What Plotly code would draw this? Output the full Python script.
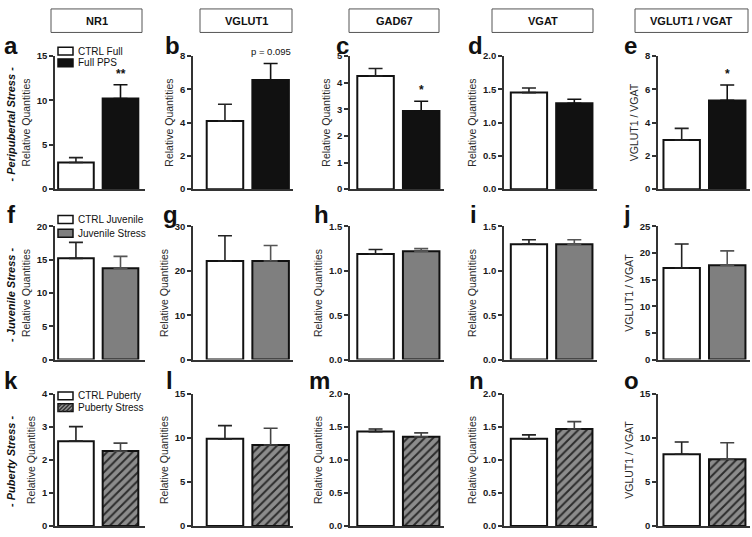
import plotly.graph_objects as go

# ---------------- data ----------------
genes = ["NR1", "VGLUT1", "GAD67", "VGAT", "VGLUT1 / VGAT"]
row_labels = ["- Peripubertal Stress -", "- Juvenile Stress -", "- Puberty Stress -"]
panel_letters = [["a", "b", "c", "d", "e"], ["f", "g", "h", "i", "j"], ["k", "l", "m", "n", "o"]]
legend_ctrl = ["CTRL Full", "CTRL Juvenile", "CTRL Puberty"]
legend_stress = ["Full PPS", "Juvenile Stress", "Puberty Stress"]
y_titles = ["Relative Quantities", "Relative Quantities", "Relative Quantities",
            "Relative Quantities", "VGLUT1 / VGAT"]

# Peripubertal stress (row 1)
peri_ctrl = [3.0, 4.1, 4.25, 1.45, 2.95]
peri_ctrl_err = [0.55, 1.0, 0.28, 0.07, 0.7]
peri_stress = [10.2, 6.55, 2.93, 1.29, 5.33]
peri_stress_err = [1.55, 1.0, 0.37, 0.06, 0.93]
# Juvenile stress (row 2)
juv_ctrl = [15.2, 22.2, 1.19, 1.30, 17.2]
juv_ctrl_err = [2.4, 5.7, 0.05, 0.05, 4.5]
juv_stress = [13.7, 22.2, 1.22, 1.30, 17.7]
juv_stress_err = [1.8, 3.5, 0.03, 0.05, 2.7]
# Puberty stress (row 3)
pub_ctrl = [2.57, 9.9, 1.43, 1.32, 8.15]
pub_ctrl_err = [0.44, 1.5, 0.04, 0.06, 1.4]
pub_stress = [2.27, 9.2, 1.35, 1.47, 7.6]
pub_stress_err = [0.24, 1.9, 0.06, 0.11, 1.85]

# significance marks (row 1 only)
peri_sig = ["**", "p = 0.095", "*", "", "*"]

# axis ticks
y_max = [[15, 8, 5, 2, 8], [20, 30, 1.5, 1.5, 25], [4, 15, 2, 2, 15]]
y_dtick = [[5, 2, 1, 0.5, 2], [5, 10, 0.5, 0.5, 5], [1, 5, 0.5, 0.5, 5]]
y_decimal = [[False, False, False, True, False], [False, False, True, True, False],
             [False, False, True, True, False]]

ctrl_vals = [peri_ctrl, juv_ctrl, pub_ctrl]
ctrl_errs = [peri_ctrl_err, juv_ctrl_err, pub_ctrl_err]
stress_vals = [peri_stress, juv_stress, pub_stress]
stress_errs = [peri_stress_err, juv_stress_err, pub_stress_err]

# ---------------- layout geometry (pixels) ----------------
W, H = 752, 537
col_left = [55, 193, 350, 504, 658]
col_right = [145, 293, 444, 597, 750]
col_range = [[-0.47, 1.55], [-0.70, 1.49], [-0.56, 1.50], [-0.55, 1.50], [-0.52, 1.50]]
row_top = [51, 225, 396]
row_bot = [187, 361, 531]
header_box = [[51, 142], [200, 292], [349, 439], [492, 593], [635, 748]]
letter_x = [[11, 172, 342, 475, 630], [11, 170, 321, 473, 627], [11, 169, 319, 476, 631]]
letter_y = [40, 213, 382]
legend_rows = [[46, 58], [218, 232], [398, 410]]

FONT = "Arial, Liberation Sans, Helvetica, sans-serif"
AX = "#333333"


def px(x):
    return x / W


def py(y):
    return 1 - y / H


fig = go.Figure()
annotations = []
shapes = []

stress_styles = [
    dict(color="#111111"),
    dict(color="#7f7f7f"),
    dict(color="#8c8c8c", pattern=dict(shape="/", fgcolor="#2b2b2b", bgcolor="#8c8c8c",
                                       size=6, solidity=0.32, fillmode="replace")),
]
stress_err_color = ["#111111", "#555555", "#444444"]

k = 0
for r in range(3):
    for c in range(5):
        k += 1
        xa = "x" if k == 1 else f"x{k}"
        ya = "y" if k == 1 else f"y{k}"
        cats = [legend_ctrl[r], legend_stress[r]]
        fig.add_trace(go.Bar(
            x=[cats[0]], y=[ctrl_vals[r][c]], xaxis=xa, yaxis=ya, width=0.8,
            name=cats[0], showlegend=False,
            marker=dict(color="white", line=dict(color="#111111", width=2)),
            error_y=dict(type="data", array=[ctrl_errs[r][c]], arrayminus=[0], symmetric=False,
                         color="#222222", thickness=1.6, width=7),
        ))
        mk = dict(stress_styles[r])
        mk["line"] = dict(color="#111111", width=2)
        fig.add_trace(go.Bar(
            x=[cats[1]], y=[stress_vals[r][c]], xaxis=xa, yaxis=ya, width=0.8,
            name=cats[1], showlegend=False, marker=mk,
            error_y=dict(type="data", array=[stress_errs[r][c]], arrayminus=[0], symmetric=False,
                         color=stress_err_color[r], thickness=1.6, width=7),
        ))
        xkey = "xaxis" if k == 1 else f"xaxis{k}"
        ykey = "yaxis" if k == 1 else f"yaxis{k}"
        fig.layout[xkey] = dict(
            domain=[px(col_left[c]), px(col_right[c])], anchor=ya,
            type="category", categoryorder="array", categoryarray=cats,
            range=col_range[c], showticklabels=False, ticks="", showgrid=False,
            zeroline=False, showline=True, linecolor=AX, linewidth=1.6, fixedrange=True,
        )
        fig.layout[ykey] = dict(
            domain=[py(row_bot[r]), py(row_top[r])], anchor=xa,
            range=[0, y_max[r][c]], dtick=y_dtick[r][c], tick0=0,
            tickformat=".1f" if y_decimal[r][c] else "d",
            ticks="outside", ticklen=4, tickwidth=1.5, tickcolor=AX,
            ticklabeloverflow="allow",
            showline=True, linecolor=AX, linewidth=1.6, showgrid=False, zeroline=False,
            tickfont=dict(family=FONT, size=9.5, color="#1a1a1a", weight="bold"),
            title=dict(text=y_titles[c], font=dict(family=FONT, size=10.5, color="#2a2a2a"),
                       standoff=4),
            fixedrange=True,
        )
        # panel letter
        annotations.append(dict(
            text=panel_letters[r][c], x=px(letter_x[r][c]), y=py(letter_y[r]),
            xref="paper", yref="paper", showarrow=False, xanchor="center", yanchor="middle",
            font=dict(family=FONT, size=24, color="#111111", weight="bold"),
        ))
        # significance
        if r == 0 and peri_sig[c]:
            star = peri_sig[c].startswith("*")
            annotations.append(dict(
                text=peri_sig[c], x=cats[1], y=stress_vals[r][c] + stress_errs[r][c],
                xref=xa, yref=ya, showarrow=False, xanchor="center", yanchor="bottom",
                yshift=2 if star else 4,
                font=dict(family=FONT, size=12 if star else 9.5, color="#111111",
                          weight="bold" if star else "normal"),
            ))

# header boxes
for c in range(5):
    x0, x1 = header_box[c]
    shapes.append(dict(type="rect", xref="paper", yref="paper", x0=px(x0), x1=px(x1),
                       y0=py(27), y1=py(3), line=dict(color="#555555", width=1),
                       fillcolor="white", layer="below"))
    annotations.append(dict(text=genes[c], x=px((x0 + x1) / 2), y=py(15), xref="paper",
                            yref="paper", showarrow=False, xanchor="center", yanchor="middle",
                            font=dict(family=FONT, size=11, color="#111111", weight="bold")))

# row labels
for r in range(3):
    annotations.append(dict(
        text=row_labels[r], x=px(11), y=py((row_top[r] + row_bot[r]) / 2 + 2),
        xref="paper", yref="paper", showarrow=False, textangle=-90,
        xanchor="center", yanchor="middle",
        font=dict(family=FONT, size=11, color="#111111", weight="bold", style="italic"),
    ))

# legends (glyph + text)
LX0, LX1 = 58, 73
for r in range(3):
    for i, yc in enumerate(legend_rows[r]):
        y0, y1 = yc + 4, yc - 4
        if i == 0:
            fill = "white"
        else:
            fill = ["#111111", "#7f7f7f", "#8c8c8c"][r]
        shapes.append(dict(type="rect", xref="paper", yref="paper", x0=px(LX0), x1=px(LX1),
                           y0=py(y0), y1=py(y1), fillcolor=fill,
                           line=dict(color="#111111", width=1.5)))
        if i == 1 and r == 2:
            hgt = y0 - y1
            for s in range(LX0 - hgt, LX1, 4):
                xa0, ya0 = s, y0
                xa1, ya1 = s + hgt, y1
                if xa0 < LX0:
                    ya0 = y0 - (LX0 - xa0)
                    xa0 = LX0
                if xa1 > LX1:
                    ya1 = y1 + (xa1 - LX1)
                    xa1 = LX1
                if xa1 <= xa0:
                    continue
                shapes.append(dict(type="line", xref="paper", yref="paper",
                                   x0=px(xa0), y0=py(ya0), x1=px(xa1), y1=py(ya1),
                                   line=dict(color="#2b2b2b", width=1.2)))
        label = legend_ctrl[r] if i == 0 else legend_stress[r]
        annotations.append(dict(text=label, x=px(LX1 + 3), y=py(yc), xref="paper", yref="paper",
                                showarrow=False, xanchor="left", yanchor="middle",
                                font=dict(family=FONT, size=10, color="#111111")))

fig.update_layout(
    width=W, height=H, margin=dict(l=0, r=0, t=0, b=0),
    paper_bgcolor="white", plot_bgcolor="white", barmode="overlay",
    showlegend=False, annotations=annotations, shapes=shapes,
    font=dict(family=FONT),
)

fig.write_html("out.html", config={"displayModeBar": False},
               post_script="document.body.style.margin='0';document.body.style.overflow='hidden';")
